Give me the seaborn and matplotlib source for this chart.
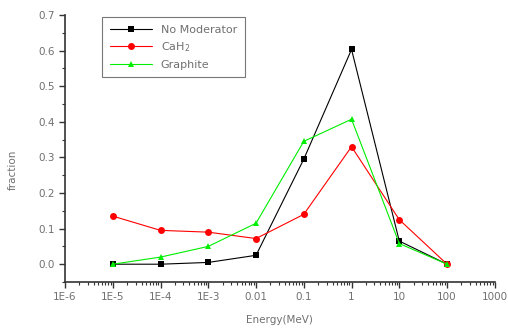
import pandas as pd
import numpy as np
import matplotlib
matplotlib.use('Agg')
import matplotlib.pyplot as plt
import matplotlib.ticker as mticker
import seaborn as sns

sns.set_style('ticks')
plt.rcParams['font.family'] = ['DejaVu Sans']

energy = [1e-5, 1e-4, 1e-3, 1e-2, 1e-1, 1, 10, 100]
no_moderator = [0.0, 0.0, 0.005, 0.025, 0.295, 0.603, 0.065, 0.0]
cah2 = [0.135, 0.095, 0.09, 0.072, 0.14, 0.33, 0.125, 0.0]
graphite = [0.0, 0.02, 0.05, 0.115, 0.345, 0.407, 0.058, 0.0]
series_names = ['No Moderator', 'CaH$_2$', 'Graphite']
xtick_vals = [1e-6, 1e-5, 1e-4, 1e-3, 1e-2, 1e-1, 1, 10, 100, 1000]
xtick_labels = ['1E-6', '1E-5', '1E-4', '1E-3', '0.01', '0.1', '1', '10', '100', '1000']

df = pd.concat([
    pd.DataFrame({'energy': energy, 'fraction': vals, 'series': name})
    for name, vals in zip(series_names, [no_moderator, cah2, graphite])
])

txt = '#707070'
fig = plt.figure(figsize=(5.08, 3.31), dpi=100)
ax = fig.add_axes([0.128, 0.148, 0.846, 0.807])
sns.lineplot(data=df, x='energy', y='fraction', hue='series', style='series',
             markers=['s', 'o', '^'], dashes=False, palette=['black', 'red', '#00ee00'],
             markersize=5, linewidth=0.8, markeredgewidth=0, ax=ax)
ax.set_xscale('log')
ax.set_xlim(1e-6, 1000)
ax.set_ylim(-0.05, 0.7)
ax.set_xticks(xtick_vals)
ax.set_xticklabels(xtick_labels)
ax.xaxis.set_minor_locator(mticker.LogLocator(base=10, subs=np.arange(2, 10)))
ax.xaxis.set_minor_formatter(mticker.NullFormatter())
ax.set_yticks(np.arange(0, 0.71, 0.1))
ax.yaxis.set_major_formatter(mticker.FormatStrFormatter('%.1f'))
ax.yaxis.set_minor_locator(mticker.MultipleLocator(0.05))
ax.tick_params(which='major', direction='out', length=4, width=1, colors='#333333',
               labelcolor=txt, labelsize=7.5)
ax.tick_params(which='minor', direction='out', length=2, width=0.8, colors='#333333')
sns.despine(ax=ax)
for s in ['left', 'bottom']:
    ax.spines[s].set_linewidth(1.2)
    ax.spines[s].set_color('#333333')
ax.set_xlabel('Energy(MeV)', color=txt, fontsize=7.5)
ax.set_ylabel('fraction', color=txt, fontsize=7.5)
ax.xaxis.set_label_coords(0.5, -0.125)
ax.yaxis.set_label_coords(-0.11, 0.42)
leg = ax.legend(loc='upper left', bbox_to_anchor=(0.086, 0.992), fontsize=8,
                frameon=True, fancybox=False, edgecolor='#555555', labelcolor=txt,
                handlelength=3.8, borderpad=0.7, labelspacing=0.5, borderaxespad=0)
leg.get_frame().set_linewidth(0.8)
fig.savefig('out.png', dpi=100)
